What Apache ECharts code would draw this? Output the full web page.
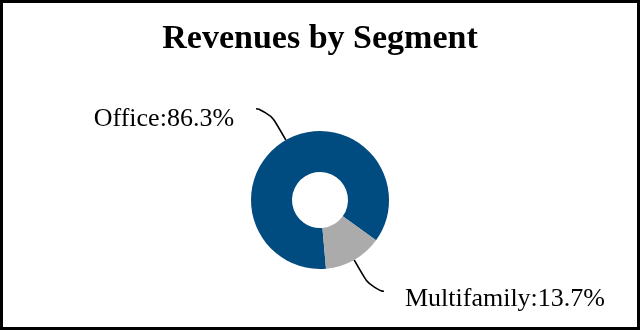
<!DOCTYPE html>
<html>
<head>
<meta charset="utf-8">
<script src="https://cdn.jsdelivr.net/npm/echarts@6/dist/echarts.min.js"></script>
<style>
html,body{margin:0;padding:0;background:#fff;}
#chart{width:640px;height:330px;}
</style>
</head>
<body>
<div id="chart"></div>
<script>
const categories = ['Office', 'Multifamily'];
const values = [86.3, 13.7];
const colors = ['#004B80', '#ABABAB'];
const titleText = 'Revenues by Segment';

const serif = '"Liberation Serif", "Times New Roman", serif';
const chart = echarts.init(document.getElementById('chart'), null, {renderer: 'canvas'});

const data = categories.map((c, i) => ({
  name: c,
  value: values[i],
  itemStyle: {color: colors[i]},
  label: {
    padding: i === 0 ? [0, 17, 0, 0] : [0, 0, 0, 16]
  }
}));

chart.setOption({
  animation: false,
  backgroundColor: '#fff',
  title: {
    text: titleText,
    left: 'center',
    top: 17,
    textStyle: {fontFamily: serif, fontSize: 34, fontWeight: 'bold', color: '#000'}
  },
  graphic: [{
    type: 'rect',
    shape: {x: 1.5, y: 1.5, width: 637, height: 327},
    style: {fill: 'none', stroke: '#000', lineWidth: 3},
    silent: true
  }],
  series: [{
    type: 'pie',
    center: [320, 200],
    radius: [28, 69],
    startAngle: 275,
    clockwise: true,
    avoidLabelOverlap: false,
    itemStyle: {borderWidth: 0},
    label: {
      show: true,
      formatter: (p) => p.name + ':' + p.value.toFixed(1) + '%',
      fontFamily: serif,
      fontSize: 26,
      color: '#000',
      distanceToLabelLine: 5
    },
    labelLayout: (p) => ({dy: p.dataIndex === 0 ? 10 : 8}),
    labelLine: {
      show: true,
      length: 36,
      length2: 12,
      smooth: 0.8,
      lineStyle: {color: '#000', width: 1.6}
    },
    data: data
  }]
});
</script>
</body>
</html>
